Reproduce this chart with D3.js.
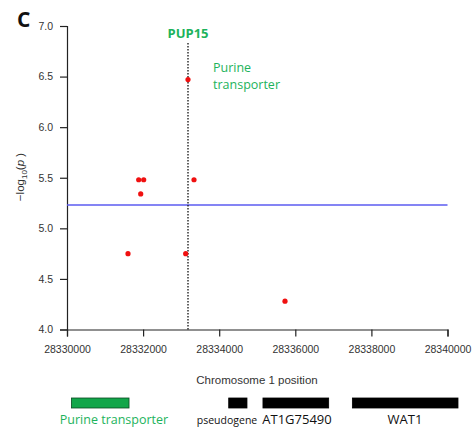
<!DOCTYPE html>
<html>
<head>
<meta charset="utf-8">
<script src="https://cdn.jsdelivr.net/npm/d3@7"></script>
<style>
  body { margin: 0; background: #fff; }
  svg { display: block; }
  .tick text { font-family: "Liberation Sans", Arial, sans-serif; font-size: 10.5px; fill: #333; }
</style>
</head>
<body>
<div id="chart"></div>
<script>
// SNP positions and -log10(p) values
let snpPos = [28331603, 28331884, 28331937, 28332016, 28333119, 28333180, 28333338, 28335729];
let snpLogP = [4.75, 5.48, 5.34, 5.48, 4.75, 6.47, 5.48, 4.28];

let xTicks = [28330000, 28332000, 28334000, 28336000, 28338000, 28340000];
let yTicks = [4.0, 4.5, 5.0, 5.5, 6.0, 6.5, 7.0];

let threshold = 5.23;
let pup15Pos = 28333180;
let pupLabel = ["Purine", "transporter"];

// gene track
let geneNames = ["Purine transporter", "pseudogene", "AT1G75490", "WAT1"];
let geneStart = [28330116, 28334250, 28335150, 28337500];
let geneEnd = [28331630, 28334730, 28336877, 28340276];

let green = "#1db35c";

let margin = { top: 26, right: 24, bottom: 103, left: 67 };
let width = 472, height = 433;

let svg = d3.select("#chart").append("svg")
    .attr("width", width).attr("height", height);

let g = svg.append("g").attr("transform", "translate(" + margin.left + "," + margin.top + ")");

let xScale = d3.scaleLinear().domain([28330000, 28340000]).range([0, 380.5]);
let yScale = d3.scaleLinear().domain([4, 7]).range([303.5, 0]);

// axes
g.append("g").attr("transform", "translate(0," + 303.5 + ")")
    .call(d3.axisBottom(xScale).tickValues(xTicks).tickFormat(d3.format("d")).tickSizeOuter(0).tickSize(7).tickPadding(9));
g.append("g")
    .call(d3.axisLeft(yScale).tickValues(yTicks).tickFormat(d3.format(".1f")).tickSizeOuter(0).tickSize(7).tickPadding(7));
g.selectAll(".domain, .tick line").attr("stroke", "#222").attr("stroke-width", 1.2);

// threshold
g.append("line")
    .attr("x1", xScale(28330000)).attr("x2", xScale(28340000))
    .attr("y1", yScale(threshold)).attr("y2", yScale(threshold))
    .attr("stroke", "#5b5bf0").attr("stroke-width", 1.5);

// PUP15 marker
g.append("line")
    .attr("x1", xScale(pup15Pos)).attr("x2", xScale(pup15Pos))
    .attr("y1", 17).attr("y2", 303.5)
    .attr("stroke", "#111").attr("stroke-width", 1.3)
    .attr("stroke-dasharray", "1.5,1.5");

// points
g.selectAll("circle.snp").data(snpPos).join("circle")
    .classed("snp", true)
    .attr("cx", d => xScale(d))
    .attr("cy", (d, i) => yScale(snpLogP[i]))
    .attr("r", 2.6)
    .attr("fill", "#f01010");

// annotations
svg.append("text").attr("x", 188).attr("y", 38)
    .attr("text-anchor", "middle")
    .style("font-family", "'Open Sans', sans-serif").style("font-weight", "bold")
    .style("font-size", "13px").style("fill", green)
    .text("PUP15");

svg.selectAll("text.pup").data(pupLabel).join("text")
    .classed("pup", true)
    .attr("x", 213).attr("y", (d, i) => 72 + i * 17)
    .style("font-family", "'Open Sans', sans-serif").style("font-size", "12.5px").style("fill", green)
    .text(d => d);

svg.append("text").attr("x", 17).attr("y", 27)
    .style("font-family", "'Open Sans', sans-serif").style("font-weight", "bold")
    .style("font-size", "21px").style("fill", "#111")
    .text("C");

// axis titles
svg.append("text").attr("x", 257).attr("y", 384)
    .attr("text-anchor", "middle")
    .style("font-family", "'Liberation Sans', Arial, sans-serif").style("font-size", "11.5px").style("fill", "#333")
    .text("Chromosome 1 position");

let yl = svg.append("text")
    .attr("transform", "translate(24,177) rotate(-90)")
    .attr("text-anchor", "middle")
    .style("font-family", "'Liberation Sans', Arial, sans-serif").style("font-size", "11.5px").style("fill", "#333");
yl.append("tspan").text("\u2212log");
yl.append("tspan").attr("dy", 3).style("font-size", "8px").text("10");
yl.append("tspan").attr("dy", -3).text("(");
yl.append("tspan").style("font-style", "italic").text("p");
yl.append("tspan").text(" )");

// gene track
let gx = margin.left;
svg.selectAll("rect.gene").data(geneNames).join("rect")
    .classed("gene", true)
    .attr("x", (d, i) => gx + xScale(geneStart[i]))
    .attr("width", (d, i) => xScale(geneEnd[i]) - xScale(geneStart[i]))
    .attr("y", 398).attr("height", 10)
    .attr("fill", (d, i) => i === 0 ? "#12a64a" : "#000")
    .attr("stroke", (d, i) => i === 0 ? "#0b4a22" : "#000")
    .attr("stroke-width", 0.8);

let labelX = [114, 227, 297, 405];
let labelSize = ["12.5px", "10.5px", "13px", "13px"];
svg.selectAll("text.gene").data(geneNames).join("text")
    .classed("gene", true)
    .attr("x", (d, i) => labelX[i])
    .attr("y", 424)
    .attr("text-anchor", "middle")
    .style("font-family", "'Open Sans', sans-serif")
    .style("font-size", (d, i) => labelSize[i])
    .style("fill", (d, i) => i === 0 ? green : "#111")
    .text(d => d);
</script>
</body>
</html>
